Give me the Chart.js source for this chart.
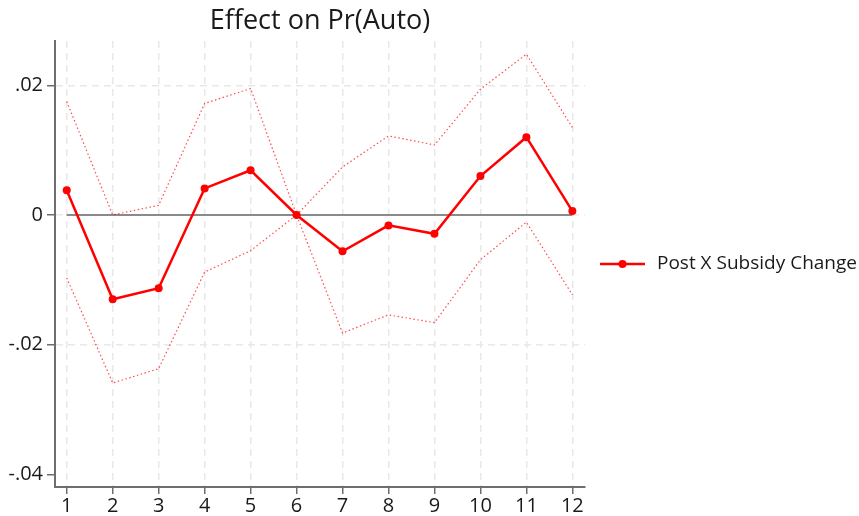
<!DOCTYPE html>
<html>
<head>
<meta charset="utf-8">
<script src="https://cdn.jsdelivr.net/npm/chart.js@4.4.1/dist/chart.umd.min.js"></script>
<style>
  html, body { margin: 0; padding: 0; background: #ffffff; }
  #wrap { width: 859px; height: 516px; position: relative; }
</style>
</head>
<body>
<div id="wrap"><canvas id="c"></canvas></div>
<script>
// Event-time periods and estimated effects with confidence bounds
const periods = [1, 2, 3, 4, 5, 6, 7, 8, 9, 10, 11, 12];
const estimate = [0.0038, -0.0130, -0.0113, 0.0041, 0.0069, 0.0000, -0.0056, -0.0016, -0.0029, 0.0060, 0.0120, 0.0006];
const upperCI = [0.0175, 0.0000, 0.0015, 0.0172, 0.0195, 0.0000, 0.0074, 0.0122, 0.0108, 0.0194, 0.0248, 0.0135];
const lowerCI = [-0.0097, -0.0259, -0.0237, -0.0088, -0.0055, 0.0000, -0.0182, -0.0154, -0.0166, -0.0069, -0.0011, -0.0123];
const yTicks = [-0.04, -0.02, 0, 0.02];
const yTickLabels = ['-.04', '-.02', '0', '.02'];
const chartTitle = 'Effect on Pr(Auto)';
const seriesName = 'Post X Subsidy Change';

const FONT = '"Open Sans", "DejaVu Sans", sans-serif';
const RED = '#ff0000';
const GRID = '#e8e8e8';
const AXIS = '#6e6e6e';
const INK = '#1a1a1a';

const pts = arr => periods.map((p, i) => ({ x: p, y: arr[i] }));

// Title and legend drawn onto the canvas
const decor = {
  id: 'decor',
  afterDraw(chart) {
    const ctx = chart.ctx;
    const a = chart.chartArea;
    ctx.save();
    ctx.fillStyle = INK;
    ctx.font = '27px ' + FONT;
    ctx.textAlign = 'center';
    ctx.textBaseline = 'middle';
    ctx.fillText(chartTitle, (a.left + a.right) / 2, 21);

    const ly = 264;
    ctx.strokeStyle = RED;
    ctx.lineWidth = 2.5;
    ctx.beginPath();
    ctx.moveTo(600, ly);
    ctx.lineTo(645, ly);
    ctx.stroke();
    ctx.fillStyle = RED;
    ctx.beginPath();
    ctx.arc(622.5, ly, 4, 0, Math.PI * 2);
    ctx.fill();
    ctx.fillStyle = INK;
    ctx.font = '19px ' + FONT;
    ctx.textAlign = 'left';
    ctx.fillText(seriesName, 657, ly);
    ctx.restore();
  }
};

new Chart(document.getElementById('c'), {
  type: 'line',
  data: {
    datasets: [
      {
        label: 'zero',
        data: [{ x: periods[0], y: 0 }, { x: periods[periods.length - 1], y: 0 }],
        borderColor: '#8a8a8a',
        borderWidth: 2,
        pointRadius: 0,
        order: 3
      },
      {
        label: 'upper',
        data: pts(upperCI),
        borderColor: 'rgba(255,0,0,0.7)',
        borderWidth: 1.2,
        borderDash: [1.5, 2.5],
        pointRadius: 0,
        order: 2
      },
      {
        label: 'lower',
        data: pts(lowerCI),
        borderColor: 'rgba(255,0,0,0.7)',
        borderWidth: 1.2,
        borderDash: [1.5, 2.5],
        pointRadius: 0,
        order: 2
      },
      {
        label: seriesName,
        data: pts(estimate),
        borderColor: RED,
        backgroundColor: RED,
        borderWidth: 2.5,
        pointRadius: 4,
        pointBackgroundColor: RED,
        pointBorderWidth: 0,
        order: 1
      }
    ]
  },
  options: {
    responsive: true,
    maintainAspectRatio: false,
    animation: false,
    layout: { padding: { left: 0, top: 41, right: 274, bottom: 0 } },
    plugins: { legend: { display: false }, title: { display: false }, tooltip: { enabled: false } },
    scales: {
      x: {
        type: 'linear',
        min: 0.745,
        max: 12.275,
        afterBuildTicks: s => { s.ticks = periods.map(v => ({ value: v })); },
        afterFit: s => { s.height = 29; },
        ticks: {
          color: INK,
          font: { family: FONT, size: 20 },
          padding: 0,
          maxRotation: 0,
          autoSkip: false,
          callback: v => String(v)
        },
        grid: {
          color: GRID,
          lineWidth: 1.5,
          tickColor: AXIS,
          tickLength: 7,
          tickWidth: 1.5,
          drawOnChartArea: true
        },
        border: { display: true, color: AXIS, width: 2, dash: [7, 5] }
      },
      y: {
        min: -0.04194,
        max: 0.02683,
        afterBuildTicks: s => { s.ticks = yTicks.map(v => ({ value: v })); },
        afterFit: s => { s.width = 55; },
        ticks: {
          color: INK,
          font: { family: FONT, size: 20 },
          padding: 4,
          autoSkip: false,
          callback: v => {
            const i = yTicks.findIndex(t => Math.abs(t - v) < 1e-9);
            return i >= 0 ? yTickLabels[i] : '';
          }
        },
        grid: {
          color: ctx => (Math.abs(ctx.tick.value + 0.04) < 1e-9 ? 'rgba(0,0,0,0)' : GRID),
          lineWidth: 1.5,
          tickColor: AXIS,
          tickLength: 8,
          tickWidth: 1.5
        },
        border: { display: true, color: AXIS, width: 2, dash: [7, 5] }
      }
    }
  },
  plugins: [decor]
});
</script>
</body>
</html>
